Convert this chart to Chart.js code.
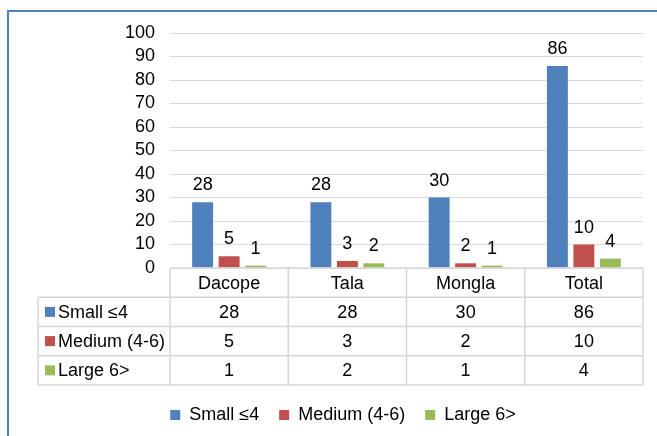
<!DOCTYPE html>
<html>
<head>
<meta charset="utf-8">
<script src="https://cdn.jsdelivr.net/npm/chart.js@4/dist/chart.umd.min.js"></script>
<style>
  html, body { margin: 0; padding: 0; background: #fff; }
  body { width: 657px; height: 436px; position: relative; overflow: hidden; }
  #frame { position: absolute; left: 7px; top: 10px; width: 800px; height: 600px;
           border-left: 2px solid #4F81BD; border-top: 2px solid #4F81BD; box-sizing: border-box; }
  #wrap { position: absolute; left: 0; top: 0; width: 657px; height: 436px; }
</style>
</head>
<body>
<div id="frame"></div>
<div id="wrap"><canvas id="c" width="657" height="436"></canvas></div>
<script>
const categories = ["Dacope", "Tala", "Mongla", "Total"];
const seriesNames = ["Small \u22644", "Medium (4-6)", "Large 6>"];
const smallValues = [28, 28, 30, 86];
const mediumValues = [5, 3, 2, 10];
const largeValues = [1, 2, 1, 4];
const yTicks = { min: 0, max: 100, step: 10 };

const colors = ["#4F81BD", "#C0504D", "#9BBB59"];
const FONT = "'Liberation Sans', Arial, sans-serif";
const FS = 18;

const valueLabels = {
  id: "valueLabels",
  afterDatasetsDraw(chart) {
    const ctx = chart.ctx;
    ctx.save();
    ctx.font = FS + "px " + FONT;
    ctx.fillStyle = "#000";
    ctx.textAlign = "center";
    ctx.textBaseline = "alphabetic";
    chart.data.datasets.forEach((ds, di) => {
      const meta = chart.getDatasetMeta(di);
      meta.data.forEach((bar, i) => {
        ctx.fillText(String(ds.data[i]), bar.x, bar.y - 12);
      });
    });
    ctx.restore();
  }
};

const dataTable = {
  id: "dataTable",
  afterDraw(chart) {
    const ctx = chart.ctx;
    const xs = chart.scales.x;
    const n = categories.length;
    const cw = (xs.right - xs.left) / n;
    const top = chart.chartArea.bottom;
    const rowH = 29.25;
    const left = 38;
    const right = xs.right;
    const rows = chart.data.datasets.length + 1;
    ctx.save();
    ctx.strokeStyle = "#D6D6D6";
    ctx.lineWidth = 1.5;
    ctx.beginPath();
    ctx.moveTo(xs.left, top); ctx.lineTo(right, top);
    for (let r = 1; r <= rows; r++) {
      const y = top + r * rowH;
      ctx.moveTo(left, y); ctx.lineTo(right, y);
    }
    for (let i = 0; i <= n; i++) {
      const x = xs.left + i * cw;
      ctx.moveTo(x, top); ctx.lineTo(x, top + rows * rowH);
    }
    ctx.moveTo(left, top + rowH); ctx.lineTo(left, top + rows * rowH);
    ctx.stroke();

    ctx.font = FS + "px " + FONT;
    ctx.fillStyle = "#000";
    ctx.textBaseline = "middle";
    ctx.textAlign = "center";
    categories.forEach((c, i) => {
      ctx.fillText(c, xs.getPixelForValue(i), top + rowH / 2 + 1);
    });
    chart.data.datasets.forEach((ds, di) => {
      const cy = top + (di + 1) * rowH + rowH / 2;
      ctx.fillStyle = ds.backgroundColor;
      ctx.fillRect(45, cy - 5, 10, 10);
      ctx.fillStyle = "#000";
      ctx.textAlign = "left";
      ctx.fillText(ds.label, 58, cy + 1);
      ctx.textAlign = "center";
      ds.data.forEach((v, i) => {
        ctx.fillText(String(v), xs.getPixelForValue(i), cy + 1);
      });
    });
    ctx.restore();
  }
};

new Chart(document.getElementById("c"), {
  type: "bar",
  data: {
    labels: categories,
    datasets: [
      { label: seriesNames[0], data: smallValues, backgroundColor: colors[0] },
      { label: seriesNames[1], data: mediumValues, backgroundColor: colors[1] },
      { label: seriesNames[2], data: largeValues, backgroundColor: colors[2] }
    ]
  },
  options: {
    responsive: false,
    animation: false,
    devicePixelRatio: 1,
    datasets: { bar: { categoryPercentage: 0.672, barPercentage: 0.79 } },
    layout: { padding: { left: 43, right: 14, top: 33, bottom: 2 } },
    scales: {
      x: {
        grid: { display: false },
        border: { display: false },
        ticks: { display: false },
        afterFit(axis) { axis.height = 118; }
      },
      y: {
        min: yTicks.min, max: yTicks.max,
        ticks: { stepSize: yTicks.step, autoSkip: false, padding: 15, color: "#000", font: { family: FONT, size: FS } },
        grid: { color: "#D9D9D9", lineWidth: 1, drawTicks: false },
        border: { display: false },
        afterFit(axis) { axis.width = 127; }
      }
    },
    plugins: {
      legend: {
        position: "bottom",
        labels: { boxWidth: 10, boxHeight: 10, padding: 20, color: "#000", font: { family: FONT, size: FS } }
      },
      tooltip: { enabled: false }
    }
  },
  plugins: [valueLabels, dataTable]
});
</script>
</body>
</html>
